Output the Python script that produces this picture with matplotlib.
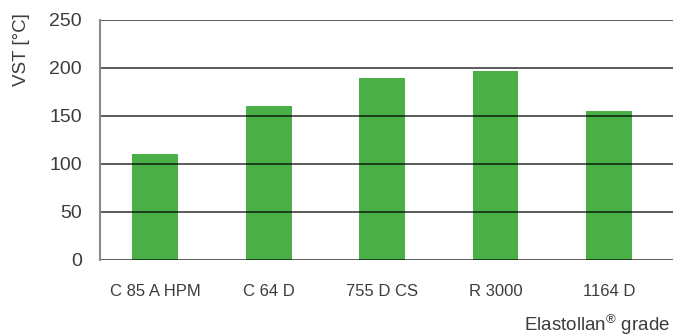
import matplotlib.pyplot as plt

# Data
grades = ["C 85 A HPM", "C 64 D", "755 D CS", "R 3000", "1164 D"]
vst = [110, 160, 190, 197, 155]
y_ticks = [0, 50, 100, 150, 200, 250]

bar_color = "#4aaf46"
text_color = "#3c3c3c"

plt.rcParams['font.family'] = ['Liberation Sans', 'DejaVu Sans']

fig = plt.figure(figsize=(6.76, 3.36), dpi=100)
ax = fig.add_axes([100 / 676, 1 - 260 / 336, 573 / 676, 240 / 336])

ax.bar(range(len(grades)), vst, width=0.405, color=bar_color, zorder=1)

# Horizontal grid lines, drawn over the bars like in the reference
for t in y_ticks:
    ax.axhline(t, color='black', alpha=0.75, linewidth=1.2, zorder=2)

ax.set_xlim(-0.485, 4.564)
ax.set_ylim(0, 250)
ax.set_yticks(y_ticks)
ax.set_xticks(range(len(grades)))
ax.set_xticklabels(grades, fontsize=12, color=text_color)
ax.tick_params(axis='y', length=0, pad=13, labelsize=14, labelcolor=text_color)
ax.tick_params(axis='x', length=0, pad=17)

for side in ['top', 'right', 'bottom']:
    ax.spines[side].set_visible(False)
ax.spines['left'].set_color('#8a8a8a')
ax.spines['left'].set_linewidth(1.5)
ax.spines['left'].set_zorder(3)

# Axis titles
fig.text(22 / 676, 1 - 13 / 336, "VST [°C]", rotation=90, ha='center', va='top',
         fontsize=13.5, color=text_color)
fig.text(670 / 676, 1 - 325 / 336, r"Elastollan$^{\mathregular{®}}$ grade",
         ha='right', va='center', fontsize=13.5, color=text_color)

fig.savefig("out.png", dpi=100)
